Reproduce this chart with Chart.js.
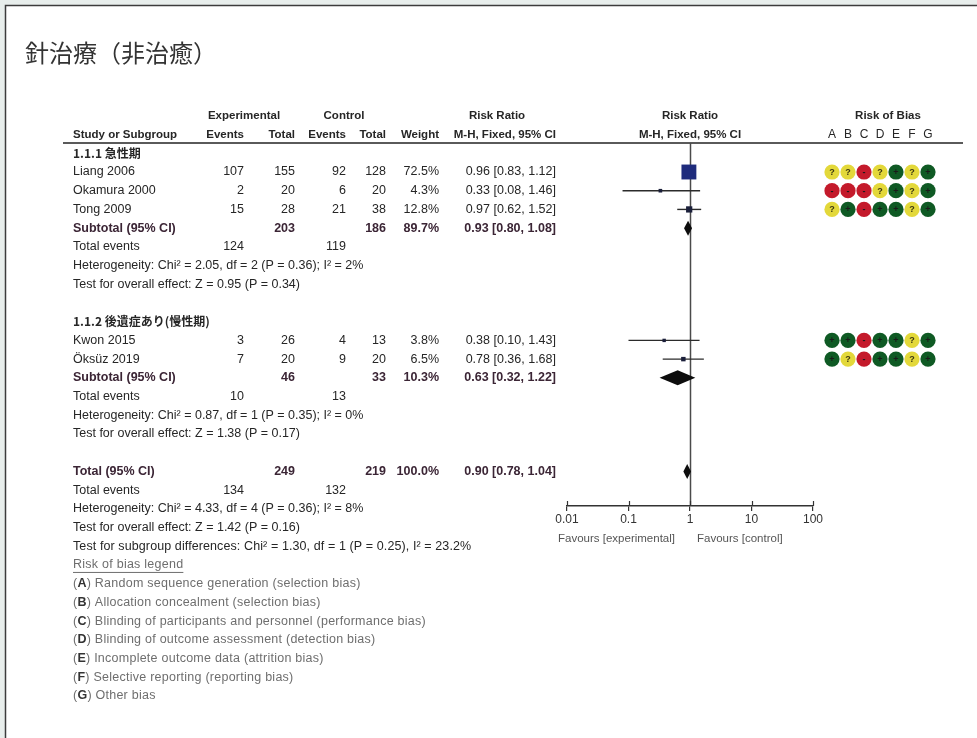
<!DOCTYPE html>
<html>
<head>
<meta charset="utf-8">
<script src="https://cdn.jsdelivr.net/npm/chart.js@4.4.1/dist/chart.umd.min.js"></script>
<style>
  html, body { margin: 0; padding: 0; background: #e8eeec; }
  canvas { display: block; }
</style>
</head>
<body>
<canvas id="forest" width="977" height="738"></canvas>
<script>
// ---- study level data ----
const studies    = ['Liang 2006', 'Okamura 2000', 'Tong 2009', 'Kwon 2015', 'Öksüz 2019'];
const studyGroup = [0, 0, 0, 1, 1];
const expEvents  = [107, 2, 15, 3, 7];
const expTotal   = [155, 20, 28, 26, 20];
const ctlEvents  = [92, 6, 21, 4, 9];
const ctlTotal   = [128, 20, 38, 13, 20];
const weights    = [72.5, 4.3, 12.8, 3.8, 6.5];
const riskRatio  = [0.96, 0.33, 0.97, 0.38, 0.78];
const ciLow      = [0.83, 0.08, 0.62, 0.10, 0.36];
const ciHigh     = [1.12, 1.46, 1.52, 1.43, 1.68];
// risk of bias per study, domains A-G: + low, ? unclear, - high
const riskOfBias = ['??-?+?+', '---?+?+', '?+-++?+', '++-++?+', '+?-++?+'];

// ---- subgroup data ----
const groupNames     = ['1.1.1 急性期', '1.1.2 後遺症あり(慢性期)'];
const subExpTotal    = [203, 46];
const subCtlTotal    = [186, 33];
const subWeight      = [89.7, 10.3];
const subRR          = [0.93, 0.63];
const subLow         = [0.80, 0.32];
const subHigh        = [1.08, 1.22];
const subExpEvents   = [124, 10];
const subCtlEvents   = [119, 13];
const subHeterogeneity = ['Heterogeneity: Chi² = 2.05, df = 2 (P = 0.36); I² = 2%',
                          'Heterogeneity: Chi² = 0.87, df = 1 (P = 0.35); I² = 0%'];
const subOverall     = ['Test for overall effect: Z = 0.95 (P = 0.34)',
                        'Test for overall effect: Z = 1.38 (P = 0.17)'];

// ---- pooled data ----
const totalExp = 249, totalCtl = 219, totalWeight = 100.0;
const totalRR = 0.90, totalLow = 0.78, totalHigh = 1.04;
const totalExpEvents = 134, totalCtlEvents = 132;
const totalHeterogeneity = 'Heterogeneity: Chi² = 4.33, df = 4 (P = 0.36); I² = 8%';
const totalOverall = 'Test for overall effect: Z = 1.42 (P = 0.16)';
const subgroupDiff = 'Test for subgroup differences: Chi² = 1.30, df = 1 (P = 0.25), I² = 23.2%';

// ---- axis and legend text ----
const xTicks = [0.01, 0.1, 1, 10, 100];
const xTickLabels = ['0.01', '0.1', '1', '10', '100'];
const favourLeft = 'Favours [experimental]';
const favourRight = 'Favours [control]';
const biasDomains = ['A', 'B', 'C', 'D', 'E', 'F', 'G'];
const biasLegend = [
  'Random sequence generation (selection bias)',
  'Allocation concealment (selection bias)',
  'Blinding of participants and personnel (performance bias)',
  'Blinding of outcome assessment (detection bias)',
  'Incomplete outcome data (attrition bias)',
  'Selective reporting (reporting bias)',
  'Other bias'
];
const title = '針治療（非治癒）';

// ---- build the table lines (line index = vertical slot) ----
const rows = [];
let line = 0;
groupNames.forEach((g, gi) => {
  rows.push({ kind: 'group', line: line++, gi });
  studies.forEach((s, i) => { if (studyGroup[i] === gi) rows.push({ kind: 'study', line: line++, i }); });
  rows.push({ kind: 'subtotal', line: line++, gi });
  rows.push({ kind: 'subevents', line: line++, gi });
  rows.push({ kind: 'subhet', line: line++, gi });
  rows.push({ kind: 'subz', line: line++, gi });
  line++;
});
rows.push({ kind: 'total', line: line++ });
rows.push({ kind: 'totevents', line: line++ });
rows.push({ kind: 'tothet', line: line++ });
rows.push({ kind: 'totz', line: line++ });
rows.push({ kind: 'subdiff', line: line++ });
rows.push({ kind: 'legendhead', line: line++ });
biasLegend.forEach((t, k) => rows.push({ kind: 'legend', line: line++, k }));

const studyRows = rows.filter(r => r.kind === 'study');
const diamondRows = rows.filter(r => r.kind === 'subtotal' || r.kind === 'total');

// ---- look ----
const FONT = "'Liberation Sans', Arial, sans-serif";
const CJK = "'Noto Sans CJK JP', 'Liberation Sans', sans-serif";
const INK = '#262626';
const SUB_INK = '#3b2535';
const LEGEND_INK = '#6e6e6e';
const BODY = `12.5px ${FONT}`;
const col = { study: 73, expEv: 244, expTot: 295, ctlEv: 346, ctlTot: 386, weight: 439, rr: 556 };
const biasX0 = 832, biasStep = 16, biasR = 7.6;
const biasColor = { '+': '#0f5a24', '?': '#e3d83a', '-': '#c41a2b' };

const fmtRR = (r, l, h) => `${r.toFixed(2)} [${l.toFixed(2)}, ${h.toFixed(2)}]`;
const fmtW = w => `${w.toFixed(1)}%`;

// whiskers drawn as two-point line datasets on the log scale
const whiskerSets = studyRows.map(r => ({
  type: 'line',
  data: [{ x: ciLow[r.i], y: r.line }, { x: ciHigh[r.i], y: r.line }],
  borderColor: '#2b2b2b', borderWidth: 1.4, pointRadius: 0, showLine: true, order: 2
}));
const squareSet = {
  type: 'scatter',
  data: studyRows.map(r => ({ x: riskRatio[r.i], y: r.line, w: weights[r.i] })),
  pointStyle: 'rect',
  pointRadius: c => Math.max(2.4, 1.75 * Math.sqrt(c.raw.w) / Math.SQRT2),
  backgroundColor: c => c.raw.w > 50 ? '#1e2b7c' : '#1b1f3a',
  borderWidth: 0, order: 1
};

const tablePlugin = {
  id: 'forestTable',
  beforeDraw(chart) {
    const c = chart.ctx;
    c.save();
    c.fillStyle = '#e8eeec';
    c.fillRect(0, 0, chart.width, chart.height);
    c.fillStyle = '#ffffff';
    c.fillRect(5, 5, chart.width - 5, chart.height - 5);
    c.strokeStyle = '#3c3c3c';
    c.lineWidth = 1.5;
    c.beginPath();
    c.moveTo(5.5, chart.height); c.lineTo(5.5, 5.5); c.lineTo(chart.width, 5.5);
    c.stroke();
    c.restore();
  },
  beforeDatasetsDraw(chart) {
    const c = chart.ctx, x = chart.scales.x, a = chart.chartArea;
    c.save();
    // header rule
    c.strokeStyle = '#5a5a5a'; c.lineWidth = 2;
    c.beginPath(); c.moveTo(63, a.top); c.lineTo(963, a.top); c.stroke();
    // line of no effect
    const x1 = Math.round(x.getPixelForValue(1)) + 0.5;
    c.strokeStyle = '#4a4a4a'; c.lineWidth = 1.5;
    c.beginPath(); c.moveTo(x1, a.top); c.lineTo(x1, a.bottom); c.stroke();
    c.restore();
  },
  afterDatasetsDraw(chart) {
    const c = chart.ctx, x = chart.scales.x, y = chart.scales.y, a = chart.chartArea;
    c.save();
    // pooled diamonds
    diamondRows.forEach(r => {
      const v = r.kind === 'total' ? [totalRR, totalLow, totalHigh] : [subRR[r.gi], subLow[r.gi], subHigh[r.gi]];
      const py = y.getPixelForValue(r.line), h = 7.5;
      c.fillStyle = '#0d0d0d';
      c.beginPath();
      c.moveTo(x.getPixelForValue(v[1]), py);
      c.lineTo(x.getPixelForValue(v[0]), py - h);
      c.lineTo(x.getPixelForValue(v[2]), py);
      c.lineTo(x.getPixelForValue(v[0]), py + h);
      c.closePath(); c.fill();
    });
    // upward half of the axis ticks
    c.strokeStyle = '#333'; c.lineWidth = 1.2;
    xTicks.forEach(t => {
      const px = Math.round(x.getPixelForValue(t)) + 0.5;
      c.beginPath(); c.moveTo(px, a.bottom); c.lineTo(px, a.bottom - 5); c.stroke();
    });
    c.restore();
  },
  afterDraw(chart) {
    const c = chart.ctx, x = chart.scales.x, y = chart.scales.y, a = chart.chartArea;
    const Y = l => y.getPixelForValue(l);
    const t = (s, px, l, align, font, color, spacing) => {
      c.font = font || BODY;
      c.fillStyle = color || INK;
      c.textAlign = align || 'left';
      c.textBaseline = 'middle';
      c.letterSpacing = spacing || '0px';
      c.fillText(String(s), px, Y(l));
      c.letterSpacing = '0px';
    };
    const HB = `bold 11.5px ${FONT}`;
    const B = `bold 12.5px ${FONT}`;
    const LEG = `12.5px ${FONT}`;
    const LSP = '0.25px';
    c.save();

    // title
    c.font = `24px ${CJK}`; c.fillStyle = '#333'; c.textAlign = 'left'; c.textBaseline = 'middle';
    c.fillText(title, 25, 53);

    // column headers
    t('Experimental', 244, -2, 'center', HB);
    t('Control', 344, -2, 'center', HB);
    t('Risk Ratio', 497, -2, 'center', HB);
    t('Risk Ratio', 690, -2, 'center', HB);
    t('Risk of Bias', 888, -2, 'center', HB);
    t('Study or Subgroup', col.study, -1, 'left', HB);
    t('Events', col.expEv, -1, 'right', HB);
    t('Total', col.expTot, -1, 'right', HB);
    t('Events', col.ctlEv, -1, 'right', HB);
    t('Total', col.ctlTot, -1, 'right', HB);
    t('Weight', col.weight, -1, 'right', HB);
    t('M-H, Fixed, 95% CI', col.rr, -1, 'right', HB);
    t('M-H, Fixed, 95% CI', 690, -1, 'center', HB);
    biasDomains.forEach((d, k) => t(d, biasX0 + k * biasStep, -1, 'center', `12px ${FONT}`));

    rows.forEach(r => {
      const l = r.line;
      switch (r.kind) {
        case 'group':
          t(groupNames[r.gi], col.study, l, 'left', `bold 12px ${CJK}`);
          break;
        case 'study': {
          const i = r.i;
          t(studies[i], col.study, l);
          t(expEvents[i], col.expEv, l, 'right');
          t(expTotal[i], col.expTot, l, 'right');
          t(ctlEvents[i], col.ctlEv, l, 'right');
          t(ctlTotal[i], col.ctlTot, l, 'right');
          t(fmtW(weights[i]), col.weight, l, 'right');
          t(fmtRR(riskRatio[i], ciLow[i], ciHigh[i]), col.rr, l, 'right');
          // risk of bias dots
          riskOfBias[i].split('').forEach((s, k) => {
            const cx = biasX0 + k * biasStep, cy = Y(l);
            c.fillStyle = biasColor[s];
            c.beginPath(); c.arc(cx, cy, biasR, 0, Math.PI * 2); c.fill();
            c.font = `bold 9px ${FONT}`; c.textAlign = 'center'; c.textBaseline = 'middle';
            c.fillStyle = s === '?' ? '#3a3510' : '#1a1a1a';
            c.fillText(s, cx, cy + 0.5);
          });
          break;
        }
        case 'subtotal':
          t('Subtotal (95% CI)', col.study, l, 'left', B, SUB_INK);
          t(subExpTotal[r.gi], col.expTot, l, 'right', B, SUB_INK);
          t(subCtlTotal[r.gi], col.ctlTot, l, 'right', B, SUB_INK);
          t(fmtW(subWeight[r.gi]), col.weight, l, 'right', B, SUB_INK);
          t(fmtRR(subRR[r.gi], subLow[r.gi], subHigh[r.gi]), col.rr, l, 'right', B, SUB_INK);
          break;
        case 'subevents':
          t('Total events', col.study, l);
          t(subExpEvents[r.gi], col.expEv, l, 'right');
          t(subCtlEvents[r.gi], col.ctlEv, l, 'right');
          break;
        case 'subhet': t(subHeterogeneity[r.gi], col.study, l); break;
        case 'subz': t(subOverall[r.gi], col.study, l); break;
        case 'total':
          t('Total (95% CI)', col.study, l, 'left', B, SUB_INK);
          t(totalExp, col.expTot, l, 'right', B, SUB_INK);
          t(totalCtl, col.ctlTot, l, 'right', B, SUB_INK);
          t(fmtW(totalWeight), col.weight, l, 'right', B, SUB_INK);
          t(fmtRR(totalRR, totalLow, totalHigh), col.rr, l, 'right', B, SUB_INK);
          break;
        case 'totevents':
          t('Total events', col.study, l);
          t(totalExpEvents, col.expEv, l, 'right');
          t(totalCtlEvents, col.ctlEv, l, 'right');
          break;
        case 'tothet': t(totalHeterogeneity, col.study, l); break;
        case 'totz': t(totalOverall, col.study, l); break;
        case 'subdiff': t(subgroupDiff, col.study, l, 'left', BODY, INK, '0.1px'); break;
        case 'legendhead': {
          const s = 'Risk of bias legend';
          t(s, col.study, l, 'left', LEG, LEGEND_INK, LSP);
          c.font = LEG; c.letterSpacing = LSP;
          const w = c.measureText(s).width;
          c.letterSpacing = '0px';
          c.strokeStyle = LEGEND_INK; c.lineWidth = 1;
          c.beginPath(); c.moveTo(col.study, Y(l) + 7.5); c.lineTo(col.study + w, Y(l) + 7.5); c.stroke();
          break;
        }
        case 'legend': {
          let px = col.study;
          t('(', px, l, 'left', LEG, LEGEND_INK, LSP);
          c.font = LEG; c.letterSpacing = LSP;
          px += c.measureText('(').width;
          t(biasDomains[r.k], px, l, 'left', `bold 12.5px ${FONT}`, '#333', LSP);
          c.font = `bold 12.5px ${FONT}`; c.letterSpacing = LSP;
          px += c.measureText(biasDomains[r.k]).width;
          c.letterSpacing = '0px';
          t(') ' + biasLegend[r.k], px, l, 'left', LEG, LEGEND_INK, LSP);
          break;
        }
      }
    });

    // favours labels under the axis
    const x1 = x.getPixelForValue(1);
    c.font = `11.5px ${FONT}`; c.fillStyle = '#555'; c.textBaseline = 'middle';
    c.textAlign = 'right'; c.fillText(favourLeft, x1 - 15, a.bottom + 33);
    c.textAlign = 'left'; c.fillText(favourRight, x1 + 7, a.bottom + 33);
    c.restore();
  }
};

new Chart(document.getElementById('forest'), {
  type: 'scatter',
  data: { datasets: [...whiskerSets, squareSet] },
  options: {
    responsive: false,
    animation: false,
    devicePixelRatio: 1,
    layout: { padding: { left: 567, right: 164, top: 143, bottom: 192 } },
    plugins: { legend: { display: false }, tooltip: { enabled: false } },
    scales: {
      x: {
        type: 'logarithmic', min: 0.01, max: 100, position: 'bottom',
        afterBuildTicks: s => { s.ticks = xTicks.map(v => ({ value: v })); },
        afterFit: s => { s.height = 40; },
        ticks: {
          autoSkip: false, maxRotation: 0, padding: 1,
          callback: (v, i) => xTickLabels[i],
          font: { family: FONT, size: 12 }, color: '#333'
        },
        grid: { display: true, drawOnChartArea: false, drawTicks: true, tickLength: 5, color: '#333', lineWidth: 1.2 },
        border: { display: true, color: '#333', width: 1.5 }
      },
      y: { type: 'linear', display: false, reverse: true, min: -0.55, max: 18.85 }
    }
  },
  plugins: [tablePlugin]
});
</script>
</body>
</html>
